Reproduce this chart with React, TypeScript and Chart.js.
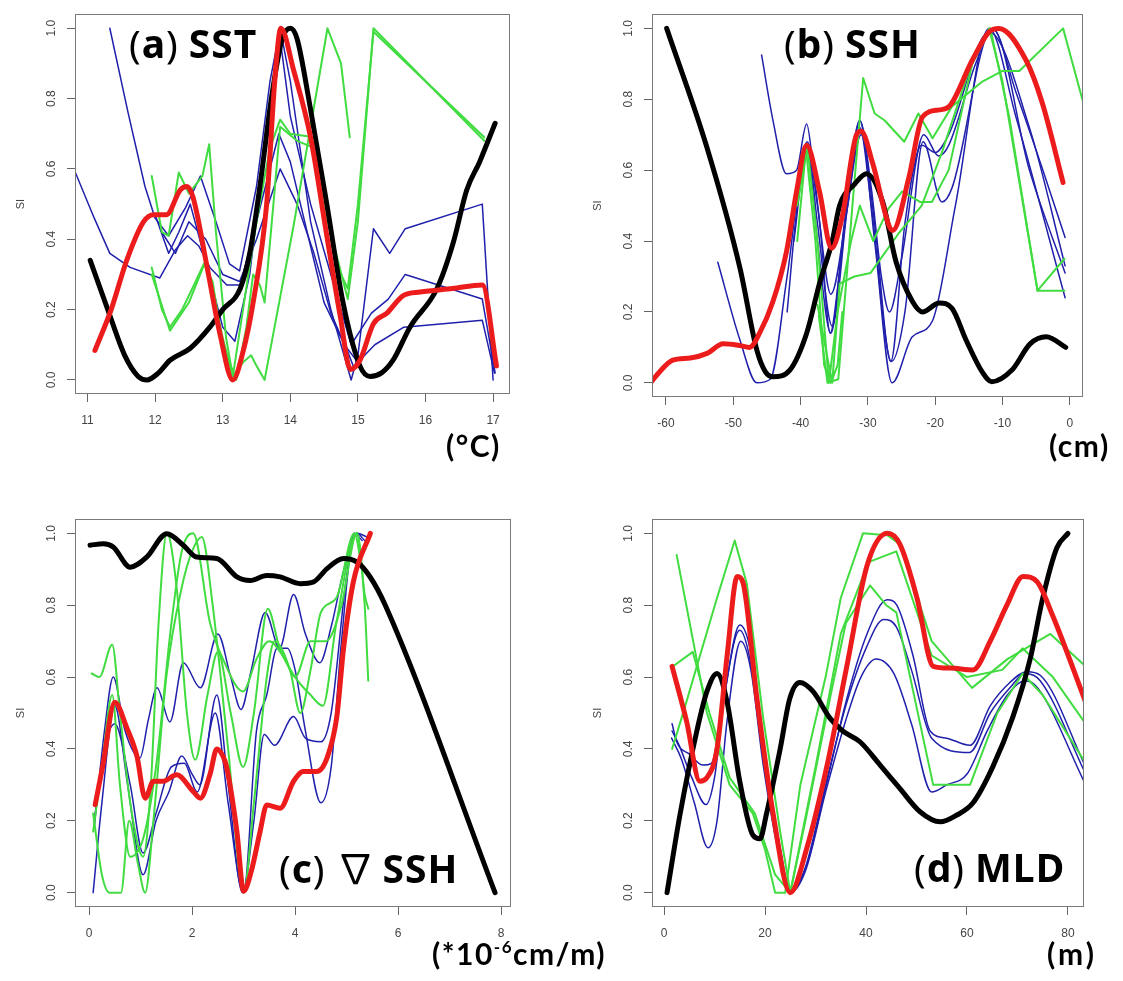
import React, { useEffect, useRef } from 'react';
import { Chart, registerables } from 'chart.js';

Chart.register(...registerables);

type Pt = [number, number];
type Kind = 'black' | 'red' | 'blue' | 'green';

// ---------- shared axis values ----------
const siTicks = [0, 0.2, 0.4, 0.6, 0.8, 1.0];
const sstTicks = [11, 12, 13, 14, 15, 16, 17];
const sshTicks = [-60, -50, -40, -30, -20, -10, 0];
const gradTicks = [0, 2, 4, 6, 8];
const mldTicks = [0, 20, 40, 60, 80];

// ---------- (a) SST ----------
const sstBlack: Pt[] = [[11.04,0.34],[11.3,0.2],[11.55,0.07],[11.75,0.01],[11.88,0.0],[12.05,0.02],[12.22,0.056],[12.52,0.09],[12.81,0.15],[13.0,0.2],[13.26,0.26],[13.4,0.36],[13.55,0.55],[13.72,0.8],[13.88,0.97],[14.0,1.0],[14.1,0.97],[14.29,0.78],[14.54,0.5],[14.78,0.22],[15.03,0.04],[15.18,0.01],[15.35,0.02],[15.52,0.056],[15.77,0.15],[16.17,0.26],[16.41,0.39],[16.61,0.54],[16.8,0.62],[17.03,0.73]];
const sstRed: Pt[] = [[11.11,0.084],[11.35,0.2],[11.58,0.34],[11.83,0.45],[11.98,0.47],[12.17,0.47],[12.37,0.54],[12.47,0.55],[12.56,0.52],[12.77,0.32],[12.96,0.13],[13.15,0.0],[13.3,0.08],[13.45,0.22],[13.65,0.5],[13.77,0.85],[13.86,1.0],[14.05,0.88],[14.3,0.69],[14.54,0.41],[14.74,0.18],[14.89,0.03],[15.03,0.056],[15.23,0.16],[15.43,0.19],[15.67,0.24],[15.92,0.25],[16.4,0.26],[16.84,0.27],[17.05,0.04]];
const sstBlue1: Pt[] = [[11.33,1.0],[11.6,0.76],[11.85,0.55],[12.0,0.46],[12.2,0.41],[12.45,0.49],[12.67,0.58],[12.9,0.45],[13.1,0.33],[13.25,0.31],[13.5,0.55],[13.7,0.85],[13.85,1.0],[14.0,0.85],[14.3,0.45],[14.6,0.2],[14.9,0.0],[15.0,0.07],[15.23,0.43],[15.47,0.36],[15.7,0.43],[16.84,0.5],[17.0,0.0]];
const sstBlue2: Pt[] = [[10.82,0.59],[11.1,0.46],[11.33,0.36],[11.63,0.32],[12.07,0.29],[12.3,0.37],[12.48,0.41],[12.65,0.38],[12.81,0.32],[13.06,0.27],[13.26,0.27],[13.5,0.45],[13.83,0.7],[14.0,0.62],[14.3,0.38],[14.5,0.22],[14.8,0.1],[15.0,0.05],[15.25,0.1],[15.68,0.15],[16.84,0.17],[17.02,0.02]];
const sstBlue3: Pt[] = [[12.0,0.47],[12.2,0.36],[12.35,0.42],[12.52,0.5],[12.8,0.3],[13.0,0.15],[13.18,0.11],[13.4,0.3],[13.65,0.7],[13.85,0.97],[14.0,0.75],[14.3,0.5],[14.6,0.3],[14.9,0.1],[15.2,0.19],[15.45,0.23],[15.7,0.3],[16.84,0.23],[17.03,0.02]];
const sstBlue4: Pt[] = [[12.1,0.42],[12.3,0.36],[12.5,0.45],[12.75,0.4],[13.0,0.3],[13.25,0.28],[13.5,0.4],[13.85,0.6],[14.1,0.5],[14.35,0.36],[14.6,0.19],[14.85,0.08],[14.95,0.03]];
const sstGreen1: Pt[] = [[11.95,0.58],[12.1,0.42],[12.2,0.41],[12.35,0.59],[12.5,0.53],[12.7,0.58],[12.8,0.67],[12.9,0.42],[13.05,0.12],[13.15,0.01],[13.3,0.2],[13.5,0.45],[13.7,0.66],[13.85,0.74],[14.0,0.7],[14.35,0.69],[14.5,0.55],[14.65,0.38],[14.85,0.23],[15.0,0.45],[15.23,1.0],[16.87,0.68]];
const sstGreen2: Pt[] = [[11.95,0.32],[12.1,0.2],[12.22,0.15],[12.4,0.2],[12.6,0.28],[12.72,0.33],[12.85,0.28],[13.0,0.1],[13.2,0.0],[13.35,0.15],[13.45,0.3],[13.55,0.27],[13.62,0.22],[13.75,0.5],[13.85,0.72],[14.1,0.68],[14.35,0.66],[14.55,0.45],[14.75,0.3],[14.85,0.26],[15.0,0.5],[15.23,0.99],[16.87,0.69]];
const sstGreen3: Pt[] = [[11.95,0.3],[12.22,0.14],[12.5,0.22],[12.75,0.34],[13.0,0.12],[13.15,0.01],[13.3,0.05],[13.42,0.07],[13.5,0.04],[13.62,0.0],[14.05,0.44],[14.55,1.0],[14.75,0.9],[14.88,0.69]];

// ---------- (b) SSH ----------
const sshBlack: Pt[] = [[-59.9,1.0],[-53.95,0.666],[-49.0,0.323],[-46.5,0.092],[-45.2,0.03],[-44.1,0.017],[-41.6,0.036],[-39.1,0.14],[-37.2,0.28],[-35.3,0.4],[-34.2,0.5],[-32.0,0.56],[-30.2,0.59],[-27.8,0.51],[-25.8,0.34],[-23.4,0.23],[-21.9,0.2],[-19.4,0.225],[-17.5,0.21],[-15.4,0.12],[-13.0,0.03],[-11.6,0.003],[-8.6,0.036],[-5.9,0.11],[-3.5,0.13],[-0.6,0.1]];
const sshRed: Pt[] = [[-62.3,0.0],[-61.0,0.03],[-59.0,0.064],[-56.4,0.07],[-53.9,0.083],[-51.5,0.11],[-49.0,0.105],[-47.6,0.1],[-46.1,0.14],[-44.1,0.23],[-42.1,0.37],[-40.6,0.54],[-39.1,0.67],[-37.2,0.54],[-35.4,0.38],[-33.8,0.47],[-31.7,0.7],[-31.0,0.71],[-29.3,0.62],[-26.8,0.44],[-26.3,0.43],[-23.9,0.58],[-21.9,0.75],[-19.4,0.77],[-17.9,0.78],[-14.5,0.91],[-12.0,0.99],[-10.5,1.0],[-6.5,0.91],[-4.1,0.79],[-1.0,0.565]];
const sshBlue1: Pt[] = [[-45.8,0.925],[-44.1,0.74],[-42.1,0.59],[-40.6,0.6],[-39.1,0.73],[-38.2,0.62],[-37.0,0.42],[-35.6,0.14],[-34.3,0.3],[-32.5,0.6],[-31.2,0.74],[-29.5,0.55],[-28.0,0.3],[-26.8,0.2],[-25.0,0.35],[-21.7,0.7],[-19.5,0.64],[-18.0,0.67],[-14.0,0.9],[-11.5,1.0],[-8.0,0.82],[-4.0,0.6],[-0.7,0.41]];
const sshBlue2: Pt[] = [[-52.3,0.34],[-49.0,0.12],[-46.5,0.0],[-44.5,0.01],[-42.0,0.3],[-39.0,0.68],[-37.5,0.5],[-35.5,0.25],[-33.0,0.5],[-31.2,0.72],[-29.5,0.5],[-26.5,0.06],[-24.5,0.2],[-21.8,0.68],[-19.0,0.51],[-17.5,0.55],[-11.5,1.0],[-6.0,0.6],[-0.7,0.31]];
const sshBlue3: Pt[] = [[-42.0,0.2],[-40.5,0.5],[-39.0,0.65],[-37.5,0.4],[-35.5,0.14],[-33.5,0.45],[-31.2,0.74],[-29.0,0.4],[-26.4,0.0],[-23.4,0.13],[-20.4,0.175],[-17.0,0.5],[-12.0,1.0],[-8.0,0.75],[-0.7,0.24]];
const sshBlue4: Pt[] = [[-41.0,0.4],[-39.0,0.67],[-37.5,0.45],[-35.3,0.16],[-33.0,0.5],[-31.0,0.7],[-29.0,0.45],[-26.6,0.06],[-24.5,0.45],[-22.0,0.67],[-20.0,0.65],[-18.0,0.7],[-12.0,0.99],[-6.0,0.72],[-0.7,0.33]];
const sshGreen1: Pt[] = [[-37.3,0.19],[-36.0,0.0],[-34.4,0.01],[-32.3,0.5],[-30.7,0.86],[-29.0,0.76],[-27.5,0.74],[-24.6,0.68],[-22.5,0.76],[-20.4,0.69],[-17.5,0.78],[-13.0,0.85],[-10.0,0.88],[-7.5,0.88],[-1.0,1.0],[2.0,0.79]];
const sshGreen2: Pt[] = [[-40.5,0.5],[-39.0,0.67],[-37.5,0.4],[-35.8,0.0],[-34.5,0.2],[-32.5,0.4],[-31.2,0.5],[-29.2,0.4],[-27.0,0.49],[-24.9,0.54],[-22.2,0.51],[-20.5,0.51],[-18.0,0.6],[-14.5,0.9],[-11.8,1.0],[-9.0,0.75],[-4.8,0.26],[-0.8,0.26]];
const sshGreen3: Pt[] = [[-37.5,0.22],[-35.3,0.0],[-34.2,0.28],[-32.0,0.3],[-29.6,0.31],[-25.5,0.42],[-22.0,0.5],[-19.0,0.65],[-15.0,0.88],[-12.0,1.0],[-10.0,0.85],[-4.8,0.26],[-0.8,0.35]];
const sshGreen4: Pt[] = [[-40.5,0.4],[-39.2,0.66],[-37.8,0.4],[-36.5,0.05],[-35.5,0.0],[-34.5,0.05],[-33.8,0.2]];

// ---------- (c) ∇SSH ----------
const gradBlack: Pt[] = [[0.02,0.967],[0.28,0.971],[0.47,0.962],[0.8,0.906],[1.12,0.934],[1.51,0.999],[1.83,0.967],[2.09,0.934],[2.48,0.93],[2.87,0.879],[3.13,0.869],[3.45,0.883],[3.71,0.879],[4.1,0.86],[4.36,0.865],[4.62,0.902],[4.94,0.93],[5.2,0.92],[5.45,0.88],[5.75,0.8],[7.88,0.0]];
const gradRed: Pt[] = [[0.12,0.245],[0.27,0.355],[0.5,0.53],[0.73,0.46],[0.93,0.38],[1.09,0.263],[1.25,0.31],[1.44,0.31],[1.7,0.328],[2.03,0.28],[2.16,0.263],[2.35,0.33],[2.48,0.4],[2.6,0.38],[2.67,0.35],[2.87,0.17],[3.0,0.004],[3.15,0.06],[3.32,0.17],[3.45,0.244],[3.71,0.235],[3.97,0.31],[4.16,0.337],[4.42,0.337],[4.62,0.375],[4.81,0.49],[4.94,0.68],[5.13,0.865],[5.46,1.0]];
const gradBlue1: Pt[] = [[0.1,0.18],[0.3,0.45],[0.47,0.6],[0.7,0.45],[0.99,0.375],[1.15,0.48],[1.32,0.57],[1.57,0.475],[1.83,0.64],[2.16,0.57],[2.5,0.72],[2.75,0.6],[2.95,0.51],[3.15,0.62],[3.42,0.78],[3.7,0.68],[3.97,0.83],[4.2,0.72],[4.48,0.64],[4.7,0.74],[4.95,0.9],[5.2,1.0],[5.35,0.98]];
const gradBlue2: Pt[] = [[0.08,0.0],[0.25,0.25],[0.5,0.52],[0.75,0.3],[1.05,0.05],[1.3,0.2],[1.55,0.28],[1.8,0.38],[2.0,0.33],[2.15,0.3],[2.48,0.55],[2.7,0.3],[2.98,0.0],[3.2,0.2],[3.4,0.44],[3.6,0.41],[3.97,0.49],[4.2,0.43],[4.5,0.42],[4.7,0.5],[5.0,0.88],[5.2,1.0],[5.4,0.99]];
const gradBlue3: Pt[] = [[0.1,0.2],[0.3,0.4],[0.5,0.47],[0.8,0.3],[1.05,0.11],[1.3,0.22],[1.6,0.35],[1.85,0.36],[2.1,0.28],[2.45,0.5],[2.7,0.25],[3.0,0.0],[3.25,0.45],[3.45,0.55],[3.65,0.68],[3.85,0.68],[4.0,0.62],[4.2,0.45],[4.5,0.25],[4.7,0.35],[4.9,0.7],[5.15,1.0],[5.3,0.98]];
const gradGreen1: Pt[] = [[0.05,0.61],[0.2,0.6],[0.45,0.69],[0.6,0.5],[0.8,0.25],[1.05,0.1],[1.2,0.3],[1.35,0.75],[1.51,1.0],[1.7,0.85],[1.9,0.5],[2.06,0.37],[2.3,0.55],[2.5,0.67],[2.75,0.5],[2.99,0.35],[3.2,0.5],[3.47,0.79],[3.7,0.68],[4.0,0.6],[4.3,0.55],[4.54,0.52],[4.8,0.75],[5.2,1.0],[5.35,0.8],[5.42,0.59]];
const gradGreen2: Pt[] = [[0.08,0.17],[0.25,0.35],[0.45,0.55],[0.6,0.3],[0.8,0.1],[1.05,0.15],[1.3,0.35],[1.6,0.75],[1.8,0.95],[2.02,1.0],[2.35,0.75],[2.6,0.65],[2.99,0.56],[3.25,0.65],[3.5,0.7],[3.8,0.65],[4.0,0.6],[4.3,0.7],[4.6,0.7],[4.9,0.8],[5.2,1.0],[5.35,0.83],[5.42,0.79]];
const gradGreen3: Pt[] = [[0.08,0.22],[0.25,0.05],[0.4,0.0],[0.62,0.0],[0.78,0.2],[0.95,0.08],[1.09,0.0],[1.25,0.2],[1.5,0.6],[1.8,0.85],[2.0,0.95],[2.19,0.99],[2.4,0.8],[2.7,0.4],[3.0,0.0],[3.2,0.25],[3.45,0.6],[3.6,0.7],[3.9,0.62],[4.1,0.5],[4.3,0.62],[4.5,0.78],[4.8,0.82],[5.15,1.0],[5.3,0.9]];

// ---------- (d) MLD ----------
const mldBlack: Pt[] = [[0.6,0.0],[3.2,0.22],[6.5,0.45],[8.5,0.56],[10.5,0.61],[12.5,0.53],[15.0,0.31],[17.6,0.16],[19.0,0.15],[20.3,0.22],[23.0,0.4],[24.9,0.54],[26.9,0.585],[29.5,0.56],[32.9,0.485],[35.4,0.45],[38.8,0.42],[42.8,0.355],[46.7,0.29],[50.7,0.225],[54.7,0.197],[58.0,0.216],[61.2,0.25],[65.1,0.35],[69.1,0.49],[72.5,0.65],[75.0,0.82],[77.8,0.96],[80.0,1.0]];
const mldRed: Pt[] = [[1.6,0.63],[4.5,0.475],[7.1,0.31],[8.5,0.32],[10.5,0.4],[12.5,0.66],[14.5,0.88],[15.6,0.865],[18.4,0.54],[21.6,0.22],[25.0,0.0],[28.3,0.125],[32.3,0.355],[36.2,0.63],[40.2,0.91],[44.2,1.0],[46.7,0.97],[50.1,0.82],[53.3,0.63],[56.6,0.625],[61.2,0.62],[64.6,0.7],[67.9,0.8],[71.1,0.88],[73.9,0.865],[77.0,0.77],[83.5,0.53]];
const mldBlue1: Pt[] = [[1.6,0.47],[2.5,0.42],[5.1,0.385],[7.7,0.355],[9.4,0.36],[11.7,0.53],[15.0,0.745],[17.0,0.68],[19.6,0.4],[23.0,0.125],[25.0,0.0],[28.3,0.08],[32.3,0.31],[36.2,0.54],[40.2,0.72],[44.2,0.815],[46.1,0.8],[49.3,0.66],[52.7,0.45],[56.0,0.43],[60.6,0.41],[64.6,0.52],[68.5,0.585],[71.9,0.615],[74.5,0.605],[83.5,0.35]];
const mldBlue2: Pt[] = [[1.6,0.45],[3.0,0.41],[5.5,0.32],[8.3,0.245],[10.0,0.32],[12.0,0.55],[15.0,0.73],[17.0,0.65],[19.6,0.38],[23.0,0.1],[25.0,0.0],[28.0,0.07],[32.0,0.3],[36.0,0.52],[40.0,0.68],[43.5,0.76],[46.0,0.74],[49.0,0.62],[53.0,0.43],[60.5,0.39],[64.6,0.5],[68.5,0.57],[71.5,0.61],[74.5,0.59],[83.5,0.33]];
const mldBlue3: Pt[] = [[1.5,0.43],[3.5,0.37],[6.0,0.25],[8.7,0.125],[10.5,0.2],[12.5,0.48],[15.2,0.7],[17.2,0.62],[19.6,0.36],[23.0,0.09],[25.0,0.0],[28.0,0.06],[32.0,0.28],[36.0,0.48],[39.0,0.6],[42.0,0.65],[45.5,0.61],[49.0,0.47],[53.0,0.28],[56.0,0.3],[60.0,0.33],[64.0,0.45],[68.0,0.55],[71.5,0.59],[74.0,0.57],[83.5,0.3]];
const mldGreen1: Pt[] = [[2.5,0.94],[8.5,0.5],[13.0,0.3],[17.6,0.22],[20.0,0.12],[22.0,0.0],[24.0,0.0],[27.0,0.3],[32.0,0.6],[35.0,0.82],[39.4,1.0],[44.2,0.995],[46.7,0.97],[53.0,0.7],[61.0,0.57],[68.0,0.65],[76.5,0.72],[83.5,0.63]];
const mldGreen2: Pt[] = [[1.6,0.4],[4.0,0.51],[6.5,0.63],[10.5,0.82],[14.0,0.98],[16.4,0.86],[19.6,0.49],[23.0,0.17],[25.0,0.0],[28.0,0.2],[33.0,0.55],[36.0,0.75],[40.8,0.855],[44.0,0.8],[46.0,0.78],[53.3,0.3],[60.6,0.3],[66.0,0.5],[71.0,0.61],[75.0,0.55],[83.5,0.36]];
const mldGreen3: Pt[] = [[1.8,0.63],[5.7,0.67],[9.0,0.5],[13.0,0.32],[18.0,0.22],[22.0,0.05],[25.0,0.0],[30.0,0.35],[35.0,0.72],[40.5,0.92],[46.0,0.95],[53.0,0.66],[60.0,0.6],[67.0,0.62],[71.0,0.68],[77.0,0.6],[83.5,0.47]];

// ---------- styling ----------
const LINE_STYLE: Record<Kind, { color: string; width: number; order: number }> = {
  red: { color: '#ec1c1c', width: 5, order: 0 },
  black: { color: '#000000', width: 5, order: 1 },
  green: { color: '#40dc40', width: 2, order: 2 },
  blue: { color: '#2020ac', width: 1.5, order: 3 },
};

const TICK_FONT = { family: '"Liberation Sans", Arial, sans-serif', size: 12 };

interface Series { data: Pt[]; kind: Kind; smooth: boolean }
interface PanelCfg {
  left: number; top: number; width: number; height: number;
  padTop: number; padRight: number; padBottom: number;
  xMin: number; xMax: number; xTicks: number[];
  series: Series[];
}

const s = (data: Pt[], kind: Kind, smooth: boolean): Series => ({ data, kind, smooth });

const panels: PanelCfg[] = [
  {
    left: 0, top: 0, width: 560, height: 480, padTop: 9, padRight: 50, padBottom: 46,
    xMin: 10.815, xMax: 17.25, xTicks: sstTicks,
    series: [
      s(sstBlack, 'black', true), s(sstRed, 'red', true),
      s(sstBlue1, 'blue', false), s(sstBlue2, 'blue', false), s(sstBlue3, 'blue', false), s(sstBlue4, 'blue', false),
      s(sstGreen1, 'green', false), s(sstGreen2, 'green', false), s(sstGreen3, 'green', false),
    ],
  },
  {
    left: 577, top: 0, width: 546, height: 480, padTop: 9, padRight: 40, padBottom: 43,
    xMin: -62.08, xMax: 1.96, xTicks: sshTicks,
    series: [
      s(sshBlack, 'black', true), s(sshRed, 'red', true),
      s(sshBlue1, 'blue', true), s(sshBlue2, 'blue', true), s(sshBlue3, 'blue', true), s(sshBlue4, 'blue', true),
      s(sshGreen1, 'green', false), s(sshGreen2, 'green', false), s(sshGreen3, 'green', false), s(sshGreen4, 'green', false),
    ],
  },
  {
    left: 0, top: 480, width: 560, height: 501, padTop: 39, padRight: 49, padBottom: 34,
    xMin: -0.272, xMax: 8.19, xTicks: gradTicks,
    series: [
      s(gradBlack, 'black', true), s(gradRed, 'red', true),
      s(gradBlue1, 'blue', true), s(gradBlue2, 'blue', true), s(gradBlue3, 'blue', true),
      s(gradGreen1, 'green', true), s(gradGreen2, 'green', true), s(gradGreen3, 'green', true),
    ],
  },
  {
    left: 577, top: 480, width: 546, height: 501, padTop: 39, padRight: 39, padBottom: 34,
    xMin: -2.38, xMax: 83.17, xTicks: mldTicks,
    series: [
      s(mldBlack, 'black', true), s(mldRed, 'red', true),
      s(mldBlue1, 'blue', true), s(mldBlue2, 'blue', true), s(mldBlue3, 'blue', true),
      s(mldGreen1, 'green', false), s(mldGreen2, 'green', false), s(mldGreen3, 'green', false),
    ],
  },
];

// Frame drawn around the plotting region
const framePlugin = {
  id: 'frame',
  afterDraw(chart: any) {
    const { ctx, chartArea: a } = chart;
    ctx.save();
    ctx.strokeStyle = '#7a7a7a';
    ctx.lineWidth = 1;
    ctx.strokeRect(Math.round(a.left) + 0.5, Math.round(a.top) + 0.5, Math.round(a.right - a.left) - 1, Math.round(a.bottom - a.top) - 1);
    ctx.restore();
  },
};

function Panel({ cfg }: { cfg: PanelCfg }) {
  const ref = useRef<HTMLCanvasElement | null>(null);
  useEffect(() => {
    const canvas = ref.current;
    if (!canvas) return;
    const datasets = cfg.series.map((sr) => {
      const st = LINE_STYLE[sr.kind];
      return {
        data: sr.data.map(([x, y]) => ({ x, y })),
        showLine: true,
        borderColor: st.color,
        backgroundColor: st.color,
        borderWidth: st.width,
        pointRadius: 0,
        fill: false,
        tension: 0,
        cubicInterpolationMode: sr.smooth ? 'monotone' : 'default',
        borderCapStyle: 'round',
        borderJoinStyle: 'round',
        order: st.order,
      };
    });
    const grid = { drawOnChartArea: false, drawTicks: true, tickLength: 8, tickColor: '#666', tickWidth: 1 };
    const chart = new Chart(canvas, {
      type: 'scatter',
      data: { datasets: datasets as any },
      options: {
        animation: false,
        responsive: false,
        maintainAspectRatio: false,
        devicePixelRatio: 1,
        layout: { padding: { left: 0, top: cfg.padTop, right: cfg.padRight, bottom: cfg.padBottom } },
        plugins: { legend: { display: false }, tooltip: { enabled: false } },
        scales: {
          x: {
            type: 'linear',
            min: cfg.xMin,
            max: cfg.xMax,
            afterBuildTicks: (sc: any) => { sc.ticks = cfg.xTicks.map((v) => ({ value: v })); },
            afterFit: (sc: any) => { sc.height = 40; },
            grid,
            border: { display: false },
            ticks: {
              color: '#444', font: TICK_FONT, padding: 11, autoSkip: false, minRotation: 0, maxRotation: 0,
              callback: (v: any) => String(v),
            },
          },
          y: {
            type: 'linear',
            min: -0.04,
            max: 1.04,
            afterBuildTicks: (sc: any) => { sc.ticks = siTicks.map((v) => ({ value: v })); },
            afterFit: (sc: any) => { sc.width = 75; },
            grid,
            border: { display: false },
            ticks: {
              color: '#444', font: TICK_FONT, padding: 7, autoSkip: false, minRotation: 90, maxRotation: 90,
              crossAlign: 'center',
              callback: (v: any) => Number(v).toFixed(1),
            },
            title: {
              display: true, text: 'SI', color: '#444',
              font: { family: '"Liberation Sans", Arial, sans-serif', size: 11 },
              padding: { top: 14, bottom: 0 },
            },
          },
        },
      } as any,
      plugins: [framePlugin],
    });
    return () => chart.destroy();
  }, [cfg]);
  return (
    <canvas
      ref={ref}
      width={cfg.width}
      height={cfg.height}
      style={{ position: 'absolute', left: cfg.left, top: cfg.top, width: cfg.width, height: cfg.height }}
    />
  );
}

const titleStyle: React.CSSProperties = {
  position: 'absolute',
  fontFamily: '"Noto Sans", "Open Sans", sans-serif',
  fontSize: 39,
  lineHeight: '39px',
  fontWeight: 700,
  color: '#000',
  whiteSpace: 'nowrap',
  letterSpacing: 1,
};
const paren: React.CSSProperties = { fontWeight: 400 };
const gapAfter: React.CSSProperties = { fontWeight: 400, marginRight: 10 };
const nabla: React.CSSProperties = {
  fontWeight: 400, fontFamily: '"Noto Sans CJK SC", "DejaVu Sans", sans-serif', fontSize: 40, marginLeft: 10, marginRight: 6,
};

const unitStyle: React.CSSProperties = {
  position: 'absolute',
  fontFamily: 'Lato, "Noto Sans", sans-serif',
  fontSize: 30,
  lineHeight: '30px',
  fontWeight: 700,
  color: '#000',
  whiteSpace: 'nowrap',
  letterSpacing: 1.5,
};

export default function App() {
  return (
    <div style={{ position: 'absolute', left: 0, top: 0, width: 1123, height: 981, background: '#fff', overflow: 'hidden' }}>
      {panels.map((p, i) => <Panel key={i} cfg={p} />)}

      <div style={{ ...titleStyle, left: 129, top: 23 }}><span style={paren}>(</span>a<span style={gapAfter}>)</span>SST</div>
      <div style={{ ...titleStyle, left: 784, top: 23 }}><span style={paren}>(</span>b<span style={gapAfter}>)</span>SSH</div>
      <div style={{ ...titleStyle, left: 279, top: 847 }}><span style={paren}>(</span>c<span style={paren}>)</span><span style={nabla}>∇</span>SSH</div>
      <div style={{ ...titleStyle, left: 914, top: 847 }}><span style={paren}>(</span>d<span style={gapAfter}>)</span>MLD</div>

      <div style={{ ...unitStyle, left: 446, top: 430 }}>(°C)</div>
      <div style={{ ...unitStyle, left: 1049, top: 430 }}>(cm)</div>
      <div style={{ ...unitStyle, left: 432, top: 938 }}>(*10<sup style={{ fontSize: 17, verticalAlign: 'top', lineHeight: '17px' }}>-6</sup>cm/m)</div>
      <div style={{ ...unitStyle, left: 1047, top: 938, letterSpacing: 3 }}>(m)</div>
    </div>
  );
}
